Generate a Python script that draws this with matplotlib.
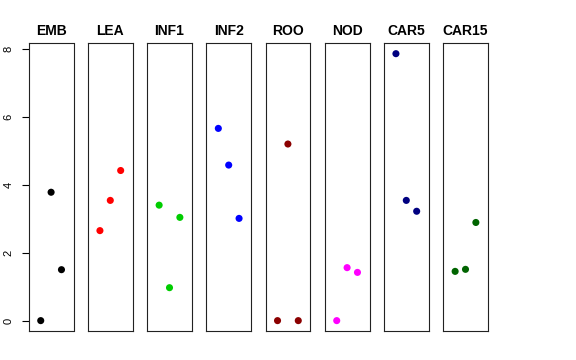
import matplotlib
matplotlib.use("Agg")
import matplotlib.pyplot as plt

plt.rcParams['font.family'] = ['Liberation Sans', 'DejaVu Sans']

tissues = ["EMB", "LEA", "INF1", "INF2", "ROO", "NOD", "CAR5", "CAR15"]
colors = ["#000000", "#FF0000", "#00CD00", "#0000FF", "#8B0000", "#FF00FF", "#000080", "#006400"]
xpos = [1, 2, 3]
emb = [0.0, 3.78, 1.50]
lea = [2.65, 3.54, 4.42]
inf1 = [3.40, 0.97, 3.04]
inf2 = [5.66, 4.58, 3.01]
roo = [0.0, 5.20, 0.0]
nod = [0.0, 1.56, 1.42]
car5 = [7.86, 3.54, 3.22]
car15 = [1.45, 1.51, 2.89]
values = [emb, lea, inf1, inf2, roo, nod, car5, car15]
yticks = [0, 2, 4, 6, 8]

W, H = 576, 360
fig = plt.figure(figsize=(W / 100, H / 100), dpi=100)

left0 = 28.7
pw = 44.8
step = 59.2
top = 43.0
bottom = 331.3

ymax = max(max(v) for v in values)
ymin = 0.0
yr = ymax - ymin
ylim = (ymin - 0.04 * yr, ymax + 0.04 * yr)

for i, (name, col, vals) in enumerate(zip(tissues, colors, values)):
    l = left0 + i * step
    ax = fig.add_axes([l / W, 1 - bottom / H, pw / W, (bottom - top) / H])
    ax.scatter(xpos, vals, s=26, color=col, edgecolors='none', zorder=3)
    ax.set_xlim(-0.16, 4.16)
    ax.set_ylim(*ylim)
    ax.set_xticks([])
    ax.set_title(name, fontsize=10, fontweight='bold', pad=5.5)
    for sp in ax.spines.values():
        sp.set_linewidth(0.8)
        sp.set_color('#222222')
    if i == 0:
        ax.set_yticks(yticks)
        ax.set_yticklabels([str(t) for t in yticks], rotation=90, va='center', fontsize=8)
        ax.tick_params(axis='y', length=5, width=0.8, pad=6)
    else:
        ax.set_yticks([])

fig.savefig("out.png", dpi=100)
